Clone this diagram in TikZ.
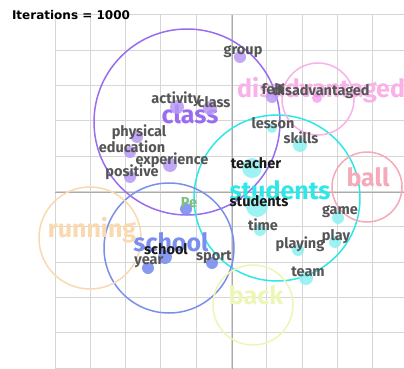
\documentclass[tikz,border=0pt]{standalone}
\usepackage{fontspec}
\setmainfont{Fira Sans}
\newfontfamily\titlefont{DejaVu Sans}

\definecolor{gridgrey}{HTML}{D6D6D6}
\definecolor{axisgrey}{HTML}{ABABAB}
\definecolor{wordgrey}{HTML}{555555}
\definecolor{classcol}{HTML}{9A6CF0}
\definecolor{studcol}{HTML}{2EE8E8}
\definecolor{schoolcol}{HTML}{7A8EF0}
\definecolor{runcol}{HTML}{F9DAB0}
\definecolor{discol}{HTML}{F8B2E8}
\definecolor{ballcol}{HTML}{F4AAB8}
\definecolor{backcol}{HTML}{EEF6B6}
\definecolor{pecol}{HTML}{7CC07C}

\tikzset{
  gridline/.style={gridgrey, line width=1pt},
  axisline/.style={axisgrey, line width=1pt},
  ring/.style={line width=1.5pt},
  topic/.style={font=\fontsize{25}{27}\selectfont\bfseries, inner sep=0pt},
  word/.style={font=\fontsize{14.5}{16}\selectfont\bfseries, text=wordgrey, inner sep=0pt},
  keyword/.style={word, text=black!90},
}

\begin{document}
\begin{tikzpicture}[x=1pt,y=-1pt]
    \clip (0,0) rectangle (404,369);
    \fill[white] (0,0) rectangle (404,369);

    % grid
    \foreach \k in {0,...,10} {
        \draw[gridline] (55+35.3*\k,15) -- (55+35.3*\k,369);
        \draw[gridline] (55,15+35.3*\k) -- (404,15+35.3*\k);
    }
    \draw[axisline] (232,15) -- (232,369);
    \draw[axisline] (55,192) -- (404,192);

    \node[font=\titlefont\fontsize{12}{14}\selectfont\bfseries, inner sep=0pt] (iter) at (71,15) {Iterations = 1000};

    % topic centres
    \coordinate (Class) at (187,122);
    \coordinate (Students) at (277,198);
    \coordinate (School) at (169,248);
    \coordinate (Running) at (90,238);
    \coordinate (Disadv) at (318,99);
    \coordinate (Ball) at (367,187);
    \coordinate (Back) at (253,305);

    \draw[ring, classcol] (Class) circle (93pt);
    \draw[ring, studcol] (Students) circle (83pt);
    \draw[ring, schoolcol] (School) circle (65pt);
    \draw[ring, runcol] (Running) circle (51pt);
    \draw[ring, discol] (Disadv) circle (36pt);
    \draw[ring, ballcol] (Ball) circle (35pt);
    \draw[ring, backcol] (Back) circle (40pt);

    \node[topic, text=classcol] (t-class) at (190,114) {class};
    \node[topic, text=studcol] (t-students) at (280,190) {students};
    \node[topic, text=schoolcol] (t-school) at (171,242) {school};
    \node[topic, text=runcol] (t-running) at (92,230) {running};
    \node[topic, text=discol, anchor=west] (t-disadv) at (237,90) {disadvantaged};
    \node[topic, text=ballcol] (t-ball) at (368,177) {ball};
    \node[topic, text=backcol] (t-back) at (256,295) {back};

    % word dots
    \fill[classcol!70, opacity=.85] (240,57) circle (6pt) (177,107) circle (7pt)
        (210,108) circle (7pt) (272,97) circle (6pt) (137,137) circle (6pt)
        (130,152) circle (6pt) (170,165) circle (7pt) (130,177) circle (6pt);
    \fill[discol!80!magenta, opacity=.7] (317,98) circle (5pt);
    \fill[studcol!55, opacity=.85] (272,128) circle (5pt) (300,145) circle (7pt)
        (252,168) circle (10pt) (257,206) circle (11pt) (260,230) circle (6pt)
        (298,250) circle (6pt) (335,242) circle (6pt) (338,218) circle (6pt)
        (306,278) circle (7pt);
    \fill[schoolcol, opacity=.9] (186,209) circle (6pt) (165,257) circle (7pt)
        (148,268) circle (6pt) (212,263) circle (6pt);

    % words
    \node[word] (group) at (243,52) {group};
    \node[word] (activity) at (176,99) {activity};
    \node[word] (class) at (214,102) {class};
    \node[word] (felt) at (273,89) {felt};
    \node[word] (disadvantaged) at (321,91) {disadvantaged};
    \node[word] (physical) at (139,132) {physical};
    \node[word] (education) at (132,147) {education};
    \node[word] (experience) at (172,160) {experience};
    \node[word] (positive) at (132,172) {positive};
    \node[word] (lesson) at (273,123) {lesson};
    \node[word] (skills) at (301,138) {skills};
    \node[keyword] (teacher) at (256,163) {teacher};
    \node[keyword] (students) at (259,201) {students};
    \node[word] (time) at (263,225) {time};
    \node[word] (game) at (340,212) {game};
    \node[word] (play) at (336,237) {play};
    \node[word] (playing) at (300,244) {playing};
    \node[word] (team) at (308,272) {team};
    \node[word, text=pecol] (pe) at (189,203) {Pe};
    \node[keyword] (school) at (166,249) {school};
    \node[word] (year) at (149,262) {year};
    \node[word] (sport) at (214,257) {sport};
\end{tikzpicture}
\end{document}
